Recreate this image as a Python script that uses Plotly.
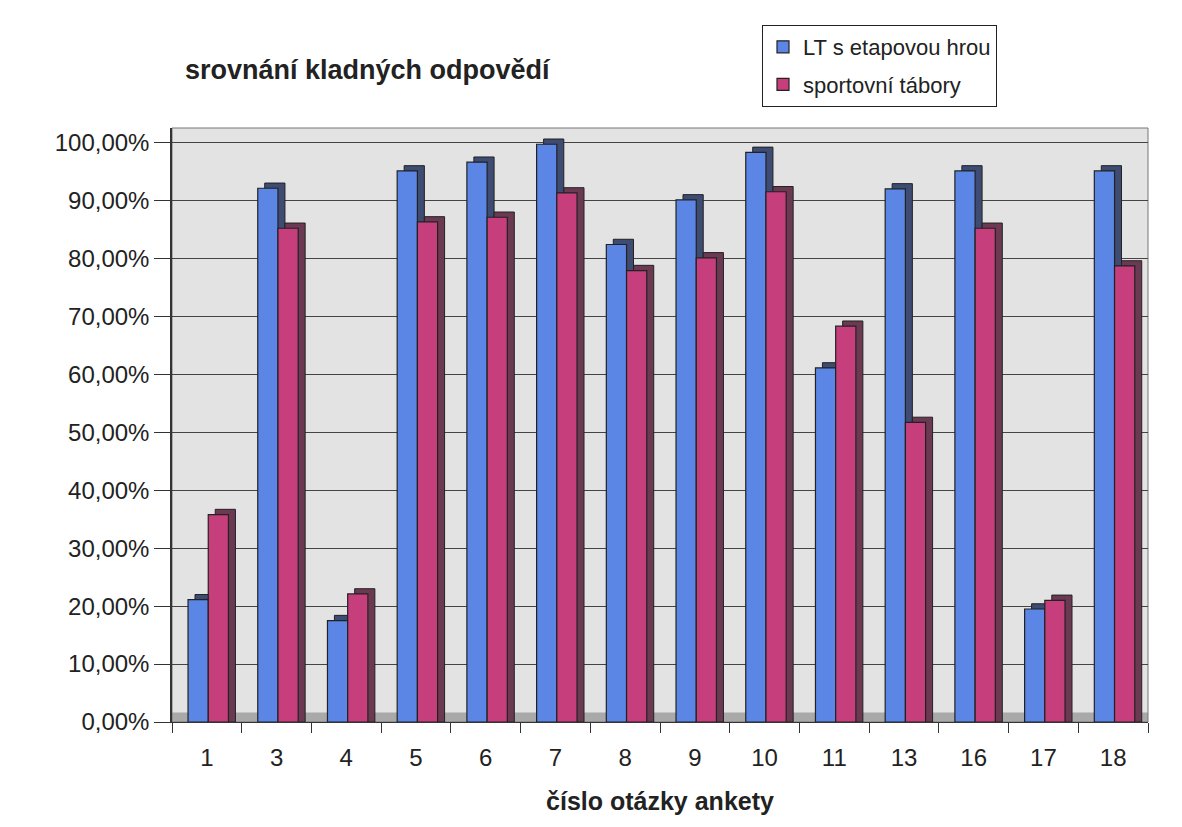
import plotly.graph_objects as go

categories = ["1", "3", "4", "5", "6", "7", "8", "9", "10", "11", "13", "16", "17", "18"]
lt_etapova = [21.1, 92.1, 17.5, 95.1, 96.6, 99.7, 82.4, 90.1, 98.3, 61.1, 92.0, 95.1, 19.5, 95.1]
sportovni = [35.8, 85.2, 22.1, 86.3, 87.1, 91.3, 77.9, 80.1, 91.5, 68.3, 51.7, 85.2, 21.0, 78.7]

series_names = ["LT s etapovou hrou", "sportovní tábory"]
front_colors = ["#5b86e6", "#c63e7c"]
side_colors = ["#3e4b72", "#6b3a52"]

x = list(range(len(categories)))
depth_y = 0.9  # percent, visual top-face depth
bar_w = 0.29
offsets = [-0.27, 0.02]
side_shift = 0.1

fig = go.Figure()
for i, (vals, name, fc, sc, off) in enumerate(zip([lt_etapova, sportovni], series_names, front_colors, side_colors, offsets)):
    yv = [v / 100 for v in vals]
    fig.add_trace(go.Bar(
        x=x, y=[v + depth_y / 100 for v in yv], width=bar_w, offset=off + side_shift,
        marker=dict(color=sc, line=dict(color="#222222", width=1)),
        showlegend=False, hoverinfo="skip",
    ))
    fig.add_trace(go.Bar(
        x=x, y=yv, width=bar_w, offset=off, name=name, legendgroup=f"g{i}",
        marker=dict(color=fc, line=dict(color="#222222", width=1.2)),
    ))

W, H = 1182, 827
ml, mr, mt, mb = 164, 42, 120, 113
pw, ph = W - ml - mr, H - mt - mb

fig.update_layout(
    width=W, height=H,
    barmode="overlay",
    separators=", ",
    paper_bgcolor="white",
    plot_bgcolor="#e3e3e3",
    margin=dict(l=ml, r=mr, t=mt, b=mb, autoexpand=False),
    font=dict(family="Liberation Sans, Arial, sans-serif", color="#222222"),
    title=dict(
        text="<b>srovnání kladných odpovědí</b>",
        font=dict(size=27, color="#222222"),
        xref="container", yref="container",
        x=177 / W, xanchor="left", y=1 - 62 / H, yanchor="middle",
    ),
    legend=dict(
        x=(754 - ml) / pw, y=(H - mb - 17) / ph, xanchor="left", yanchor="top",
        bgcolor="white", bordercolor="#222222", borderwidth=1,
        font=dict(size=22, color="#222222"),
        itemwidth=30, tracegroupgap=6,
    ),
    xaxis=dict(
        tickmode="array", tickvals=x, ticktext=categories,
        range=[-0.5, len(categories) - 0.5],
        tickfont=dict(size=24),
        ticks="", showgrid=False, zeroline=False,
        ticklabelstandoff=14,
        showline=True, linecolor="#333333", linewidth=1,
        minor=dict(ticks="outside", ticklen=10, tick0=-0.5, dtick=1, tickcolor="#333333", showgrid=False),
        title=dict(text="<b>číslo otázky ankety</b>", font=dict(size=25), standoff=22),
    ),
    yaxis=dict(
        range=[0, 1.025], dtick=0.1, tick0=0, tickformat=".2%",
        tickfont=dict(size=24),
        ticks="outside", ticklen=16, tickcolor="#333333",
        showgrid=True, gridcolor="#444444", gridwidth=1,
        zeroline=False, showline=True, linecolor="#333333", linewidth=1.5,
    ),
    shapes=[
        dict(type="rect", xref="paper", yref="paper", x0=0, x1=1, y0=0, y1=0.016,
             fillcolor="#a9a9a9", line=dict(width=0), layer="below"),
        dict(type="rect", xref="paper", yref="paper", x0=0, x1=1, y0=0, y1=1,
             fillcolor="rgba(0,0,0,0)", line=dict(color="#777777", width=1), layer="below"),
    ],
)

fig.write_html("out.html")
